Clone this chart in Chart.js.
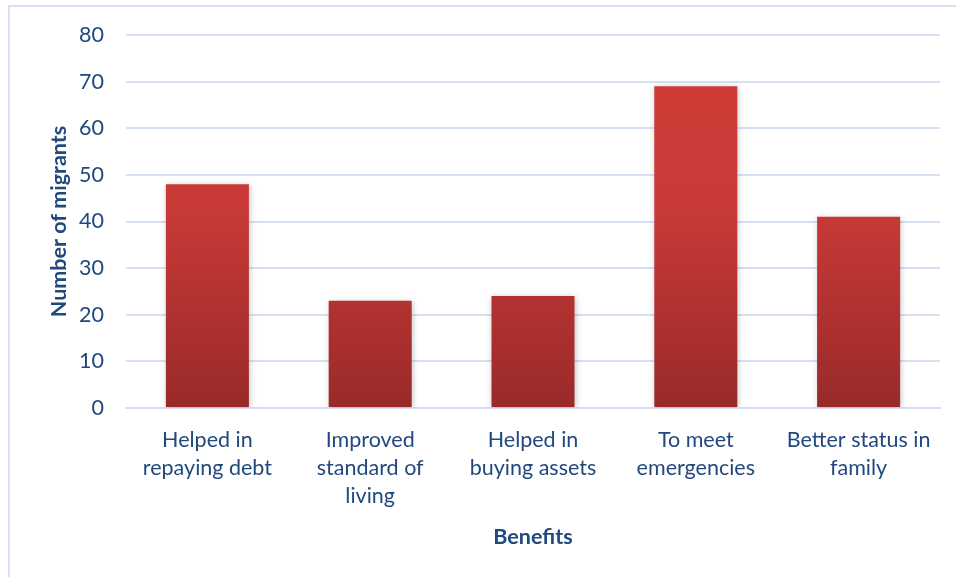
<!DOCTYPE html>
<html>
<head>
<meta charset="utf-8">
<script src="https://cdn.jsdelivr.net/npm/chart.js@4"></script>
<style>
  html, body { margin: 0; padding: 0; background: #fff; }
  #wrap { position: relative; width: 956px; height: 577px; overflow: hidden; }
  #frame { position: absolute; left: 8px; top: 5px; width: 960px; height: 600px;
           border-top: 2px solid #D5E1F2; border-left: 2px solid #D5E1F2; box-sizing: border-box; }
  canvas { position: absolute; left: 0; top: 0; }
</style>
</head>
<body>
<div id="wrap">
  <div id="frame"></div>
  <canvas id="chart" width="956" height="577"></canvas>
</div>
<script>
// chart data
const categories = [
  ['Helped in', 'repaying debt'],
  ['Improved', 'standard of', 'living'],
  ['Helped in', 'buying assets'],
  ['To meet', 'emergencies'],
  ['Better status in', 'family']
];
const migrants = [48, 23, 24, 69, 41];
const yTicks = [0, 10, 20, 30, 40, 50, 60, 70, 80];

const textColor = '#21497D';
const fontFamily = 'Lato, "Open Sans", sans-serif';

// soft shadow behind the bars
const barShadow = {
  id: 'barShadow',
  beforeDatasetsDraw(chart) {
    chart.ctx.save();
    chart.ctx.shadowColor = 'rgba(0,0,0,0.22)';
    chart.ctx.shadowBlur = 6;
    chart.ctx.shadowOffsetX = 1;
    chart.ctx.shadowOffsetY = 1;
  },
  afterDatasetsDraw(chart) {
    chart.ctx.restore();
  }
};

function barGradient(context) {
  const { chart } = context;
  const area = chart.chartArea;
  if (!area) return '#C0392B';
  const g = chart.ctx.createLinearGradient(0, area.top, 0, area.bottom);
  g.addColorStop(0, '#D23C38');
  g.addColorStop(0.45, '#C93A37');
  g.addColorStop(1, '#992A2A');
  return g;
}

new Chart(document.getElementById('chart').getContext('2d'), {
  type: 'bar',
  data: {
    labels: categories,
    datasets: [{
      data: migrants,
      backgroundColor: barGradient,
      borderWidth: 0,
      barPercentage: 0.51,
      categoryPercentage: 1
    }]
  },
  options: {
    responsive: false,
    animation: false,
    layout: { padding: { left: 46, right: 16, top: 35, bottom: 27 } },
    plugins: { legend: { display: false }, tooltip: { enabled: false } },
    scales: {
      x: {
        grid: { display: false, drawTicks: false },
        border: { display: true, color: '#D5E1F2', width: 2 },
        ticks: {
          color: textColor, padding: 18, maxRotation: 0, autoSkip: false,
          font: { family: fontFamily, size: 21.5, lineHeight: 1.3 }
        },
        title: {
          display: true, text: 'Benefits', color: textColor, padding: 0,
          font: { family: fontFamily, size: 21.5, weight: 'bold' }
        },
        afterFit(scale) { scale.height = 142; }
      },
      y: {
        min: 0, max: 80,
        afterBuildTicks(scale) { scale.ticks = yTicks.map(v => ({ value: v })); },
        grid: { color: '#D5E1F2', lineWidth: 2, drawTicks: false },
        border: { display: false },
        ticks: {
          color: textColor, padding: 22,
          font: { family: fontFamily, size: 21.5 }
        },
        title: {
          display: true, text: 'Number of migrants', color: textColor, padding: 0,
          font: { family: fontFamily, size: 21.5, weight: 'bold' }
        },
        afterFit(scale) { scale.width = 80; }
      }
    }
  },
  plugins: [barShadow]
});
</script>
</body>
</html>
